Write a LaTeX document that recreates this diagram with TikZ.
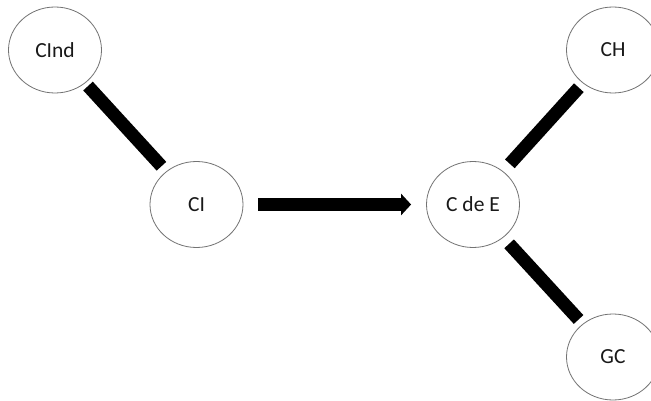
\documentclass[tikz,border=0pt]{standalone}
\usepackage{fontspec}
\setmainfont{Carlito}
\usetikzlibrary{shapes.geometric,arrows.meta}
\begin{document}
\begin{tikzpicture}[x=1pt,y=-1pt,
  circ/.style={draw=black!55,line width=0.8pt,ellipse,minimum width=93pt,minimum height=86pt,inner sep=0pt,font=\fontsize{21.5}{24}\selectfont,text=black!90},
  bar/.style={line width=13pt,black}]
\clip (0,0) rectangle (651,401);
\fill[white] (0,0) rectangle (651,401);
\node[circ] (cind) at (55,50) {CInd};
\node[circ] (ci) at (196.5,204.5) {CI};
\node[circ] (cde) at (473,204.5) {C de E};
\node[circ] (ch) at (613,50) {CH};
\node[circ] (gc) at (613,357) {GC};
\draw[bar,shorten <=4pt,shorten >=7pt] (cind) -- (ci);
\draw[bar,-{Triangle[length=10pt,width=21pt]},shorten <=15pt,shorten >=15pt] (ci) -- (cde);
\draw[bar,shorten <=10pt,shorten >=6pt] (cde) -- (ch);
\draw[bar,shorten <=8.5pt,shorten >=6pt] (cde) -- (gc);
\end{tikzpicture}
\end{document}
